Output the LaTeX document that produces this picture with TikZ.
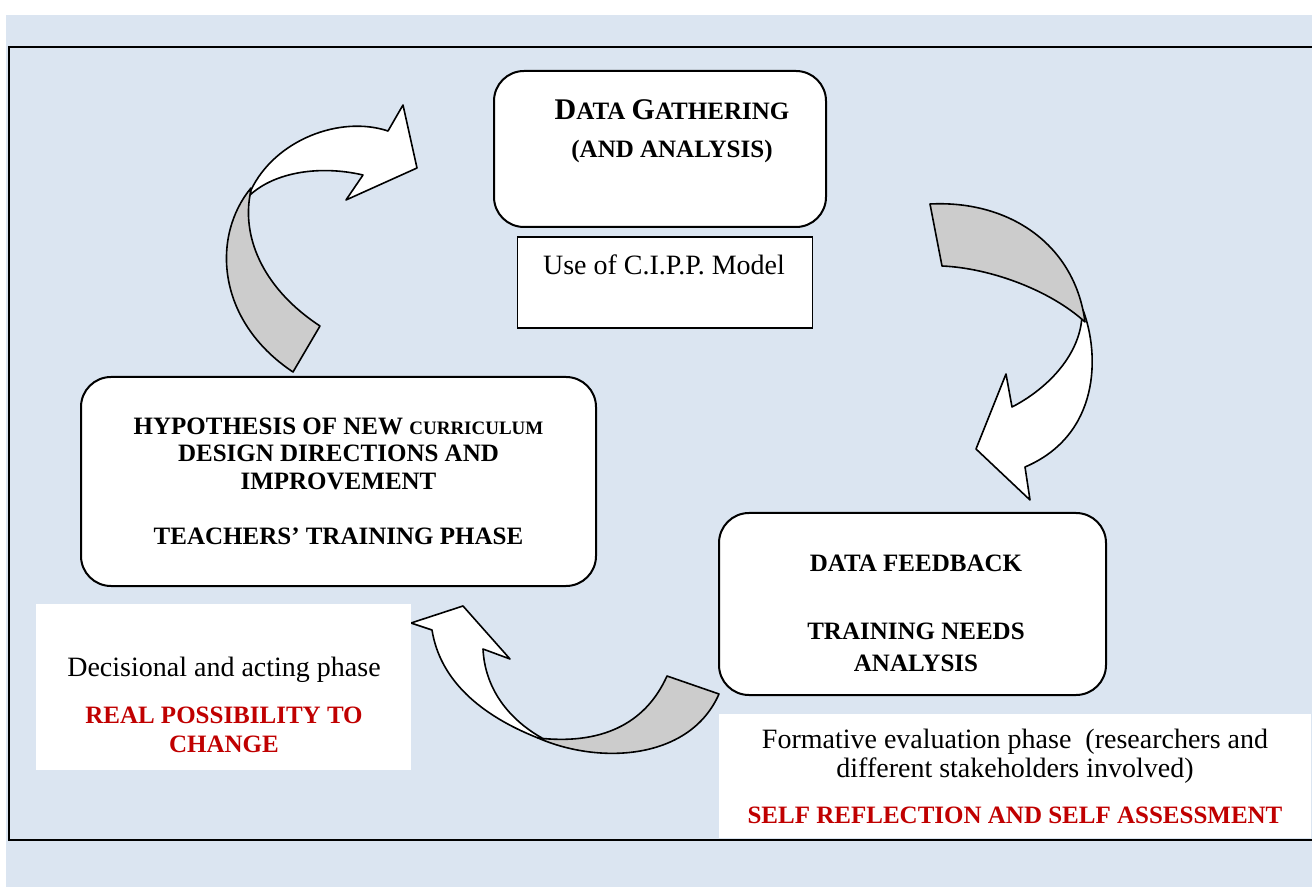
\documentclass[tikz,border=0pt]{standalone}
\usepackage{fontspec}
\setmainfont{Liberation Serif}
\usetikzlibrary{positioning}
\definecolor{paleblue}{RGB}{219,229,241}
\definecolor{shade}{RGB}{204,204,204}
\definecolor{darkred}{RGB}{192,0,0}
\newcommand{\redcaps}[1]{{\fontsize{12.5}{13.5}\selectfont\bfseries\color{darkred}#1}}
\newcommand{\bigletter}[1]{{\fontsize{15}{16}\selectfont #1}}

\begin{document}
\begin{tikzpicture}[x=0.5pt, y=-0.5pt,
	phase/.style={draw, line width=1pt, rounded corners=15pt, fill=white, inner sep=0pt, outer sep=0pt},
	note/.style={fill=white, inner sep=0pt, outer sep=0pt},
	heading/.style={font=\fontsize{12.5}{13.75}\selectfont\bfseries, align=center},
	bodytext/.style={font=\fontsize{14}{14.5}\selectfont, align=center},
	band/.style={draw, line width=0.8pt, line join=round}]
	
	\useasboundingbox (0,0) rectangle (1312,887);
	\fill[paleblue] (6,15) rectangle (1312,887);
	
	\draw[band, fill=white] (251,190) .. controls (275,140) and (340,115) .. (388,131) -- (403,105) -- (417,168) -- (346,200) -- (363,175) .. controls (320,165) and (275,172) .. (250,195) -- cycle;
	\draw[band, fill=shade] (251,188) .. controls (212,235) and (215,320) .. (293,372) -- (320,326) .. controls (265,290) and (242,240) .. (250,195) -- cycle;
	
	\draw[band, fill=white] (1083,310) .. controls (1100,355) and (1100,435) .. (1025,467) -- (1030,500) -- (976,449) -- (1006,374) -- (1012,407) .. controls (1045,390) and (1075,360) .. (1081,325) -- cycle;
	\draw[band, fill=shade] (930,204) .. controls (1010,200) and (1075,245) .. (1085,322) .. controls (1050,290) and (990,268) .. (942,266) -- cycle;
	
	\draw[band, fill=white] (538,738) .. controls (480,715) and (440,680) .. (432,630) -- (411,623) -- (463,606) -- (510,659) -- (483,649) .. controls (485,690) and (510,720) .. (542,738) -- cycle;
	\draw[band, fill=shade] (667,676) .. controls (645,725) and (600,745) .. (538,738) .. controls (600,765) and (690,760) .. (719,694) -- cycle;
	
	\node[phase, minimum width=166pt, minimum height=78pt] (gather) at (660,149) {};
	\node[heading] (gathertext) at (672,131) {\bigletter{D}ATA \bigletter{G}ATHERING\\[5pt](AND ANALYSIS)};
	\node[draw, line width=0.6pt, fill=white, inner sep=0pt, outer sep=0pt, minimum width=147.5pt, minimum height=45.5pt, below=5pt of gather, xshift=2.5pt] (cipp) {};
	\node[bodytext] (cipptext) at (664,265) {Use of C.I.P.P. Model};
	
	\node[phase, heading, minimum width=257.5pt, minimum height=104.5pt] (hyp) at (338.5,481.5) {HYPOTHESIS OF NEW {\fontsize{9.5}{10}\selectfont CURRICULUM}\\DESIGN DIRECTIONS AND\\IMPROVEMENT\\[14pt]TEACHERS' TRAINING PHASE};
	
	\node[note, minimum width=187.5pt, minimum height=83pt] (decide) at (223.5,687) {};
	\node[bodytext] (decidetext) at (224,705) {Decisional and acting phase\\[9pt]\redcaps{REAL POSSIBILITY TO}\\\redcaps{CHANGE}};
	
	\node[phase, minimum width=193.5pt, minimum height=91pt] (feed) at (912.5,604) {};
	\node[align=center, font=\fontsize{12.5}{16}\selectfont\bfseries] (feedtext) at (916,613) {DATA FEEDBACK\\[18pt]TRAINING NEEDS\\ANALYSIS};
	
	\node[note, bodytext, minimum width=296pt, minimum height=62pt] (form) at (1015,776) {Formative evaluation phase~ (researchers and\\different stakeholders involved)\\[8.5pt]\redcaps{SELF REFLECTION AND SELF ASSESSMENT}};
	
	\draw[line width=1.2pt] (1312,47) -| (9,840) -- (1312,840);
	
\end{tikzpicture}
\end{document}
